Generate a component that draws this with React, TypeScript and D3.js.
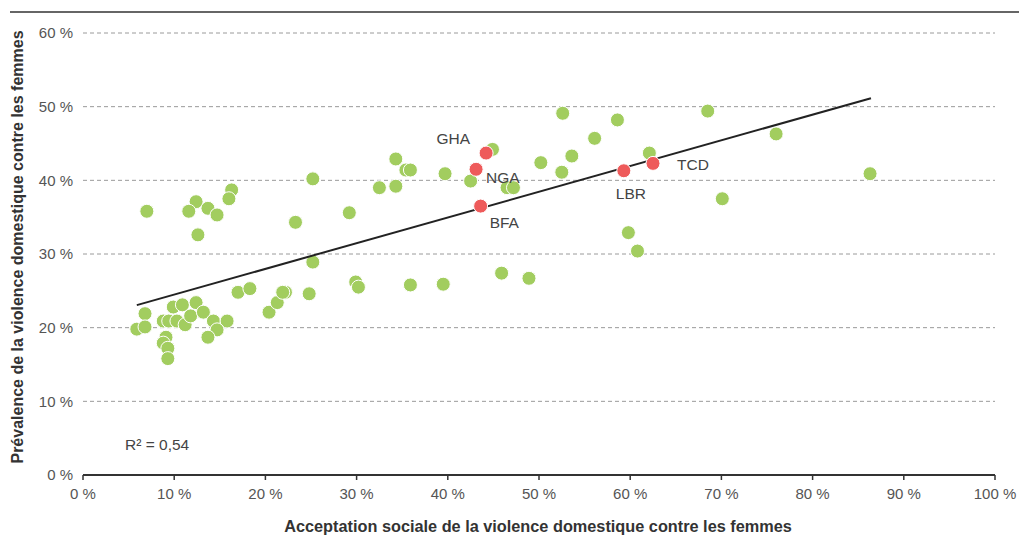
import React from "react";
import * as d3 from "d3";

// Acceptation sociale (x, %) et prévalence (y, %) par pays
const acceptance: number[] = [
  7.0, 12.4, 11.6, 13.7, 14.7, 16.3, 16.0, 12.6, 17.0, 18.3, 20.4, 21.3,
  6.8, 5.9, 6.8, 9.9, 10.9, 12.4, 8.8, 9.4, 10.3, 11.2, 11.8, 13.2, 14.3,
  15.8, 14.7, 13.7, 9.1, 8.8, 9.3, 9.3,
  25.2, 23.3, 29.2, 34.3, 35.4, 35.9, 32.5, 34.3, 25.2, 22.2, 21.9, 24.8,
  29.9, 30.2, 35.9,
  52.6, 44.9, 39.7, 42.5, 50.2, 52.5, 46.5, 47.2, 39.5, 45.9, 48.9,
  58.6, 68.5, 56.1, 53.6, 62.1, 70.1, 59.8, 60.8, 76.0, 86.3,
];
const prevalence: number[] = [
  35.8, 37.1, 35.8, 36.2, 35.3, 38.7, 37.5, 32.6, 24.8, 25.3, 22.1, 23.4,
  21.9, 19.8, 20.1, 22.8, 23.1, 23.4, 20.9, 20.9, 20.9, 20.4, 21.6, 22.1, 20.9,
  20.9, 19.7, 18.7, 18.7, 17.9, 17.2, 15.8,
  40.2, 34.3, 35.6, 42.9, 41.4, 41.4, 39.0, 39.2, 28.9, 24.8, 24.8, 24.6,
  26.2, 25.5, 25.8,
  49.1, 44.2, 40.9, 39.9, 42.4, 41.1, 39.0, 39.0, 25.9, 27.4, 26.7,
  48.2, 49.4, 45.7, 43.3, 43.7, 37.5, 32.9, 30.4, 46.3, 40.9,
];

// Pays mis en évidence
const hlCodes: string[] = ["GHA", "NGA", "BFA", "LBR", "TCD"];
const hlAcceptance: number[] = [44.2, 43.1, 43.6, 59.3, 62.5];
const hlPrevalence: number[] = [43.7, 41.5, 36.5, 41.3, 42.3];
const hlAnchor: string[] = ["end", "start", "start", "start", "start"];
const hlDx: number[] = [-16, 10, 9, -8, 24];
const hlDy: number[] = [-9, 14, 22, 28, 7];

// Droite de tendance (régression linéaire)
const trendX: number[] = [5.9, 86.4];
const trendSlope = 0.349;
const trendIntercept = 21.0;

const xTicks: number[] = [0, 10, 20, 30, 40, 50, 60, 70, 80, 90, 100];
const yTicks: number[] = [0, 10, 20, 30, 40, 50, 60];

const W = 1019;
const H = 537;
const left = 83;
const right = 995;
const top = 33;
const bottom = 475;

const GREEN = "#a2cd5f";
const RED = "#ee5a5a";
const FONT = "'Liberation Sans', Arial, Helvetica, sans-serif";

export default function App() {
  const x = d3.scaleLinear().domain([0, 100]).range([left, right]);
  const y = d3.scaleLinear().domain([0, 60]).range([bottom, top]);
  const fmt = (v: number) => `${v} %`;

  const trendPath = d3
    .line<number>()
    .x((d) => x(d))
    .y((d) => y(trendSlope * d + trendIntercept))(trendX) as string;

  return (
    <svg
      width={W}
      height={H}
      style={{ position: "absolute", left: 0, top: 0, background: "#fff" }}
      fontFamily={FONT}
    >
      {/* filet supérieur */}
      <line x1={10} x2={W} y1={12} y2={12} stroke="#333" strokeWidth={1.5} />

      {/* grille horizontale */}
      {yTicks
        .filter((t) => t > 0)
        .map((t) => (
          <line
            key={`g${t}`}
            x1={left}
            x2={right}
            y1={y(t)}
            y2={y(t)}
            stroke="#9a9a9a"
            strokeWidth={1}
            strokeDasharray="4,3"
          />
        ))}

      {/* étiquettes de l'axe vertical */}
      {yTicks.map((t) => (
        <text
          key={`yl${t}`}
          x={73}
          y={y(t)}
          dy="0.35em"
          textAnchor="end"
          fontSize={15}
          fill="#555"
        >
          {fmt(t)}
        </text>
      ))}

      {/* axe horizontal */}
      <line x1={left} x2={right} y1={bottom} y2={bottom} stroke="#333" strokeWidth={2} />
      {xTicks.map((t) => (
        <g key={`xt${t}`}>
          <line x1={x(t)} x2={x(t)} y1={bottom} y2={bottom + 5} stroke="#333" strokeWidth={1.5} />
          <text x={x(t)} y={499} textAnchor="middle" fontSize={15} fill="#555">
            {fmt(t)}
          </text>
        </g>
      ))}

      {/* points */}
      {acceptance.map((a, i) => (
        <circle
          key={`p${i}`}
          cx={x(a)}
          cy={y(prevalence[i])}
          r={7}
          fill={GREEN}
          stroke="#fff"
          strokeWidth={1}
        />
      ))}

      {/* droite de tendance */}
      <path d={trendPath} fill="none" stroke="#222" strokeWidth={2} />

      {/* pays mis en évidence */}
      {hlCodes.map((c, i) => (
        <g key={c}>
          <circle
            cx={x(hlAcceptance[i])}
            cy={y(hlPrevalence[i])}
            r={7}
            fill={RED}
            stroke="#fff"
            strokeWidth={1}
          />
          <text
            x={x(hlAcceptance[i]) + hlDx[i]}
            y={y(hlPrevalence[i]) + hlDy[i]}
            textAnchor={hlAnchor[i] as "start" | "end"}
            fontSize={15.5}
            fill="#444"
          >
            {c}
          </text>
        </g>
      ))}

      {/* coefficient de détermination */}
      <text x={125} y={450} fontSize={15.5} fill="#444">
        R² = 0,54
      </text>

      {/* titres des axes */}
      <text
        transform={`translate(23, 247) rotate(-90)`}
        textAnchor="middle"
        fontSize={16}
        fontWeight="bold"
        fill="#333"
      >
        Prévalence de la violence domestique contre les femmes
      </text>
      <text x={538} y={532} textAnchor="middle" fontSize={16.3} fontWeight="bold" fill="#333">
        Acceptation sociale de la violence domestique contre les femmes
      </text>
    </svg>
  );
}
